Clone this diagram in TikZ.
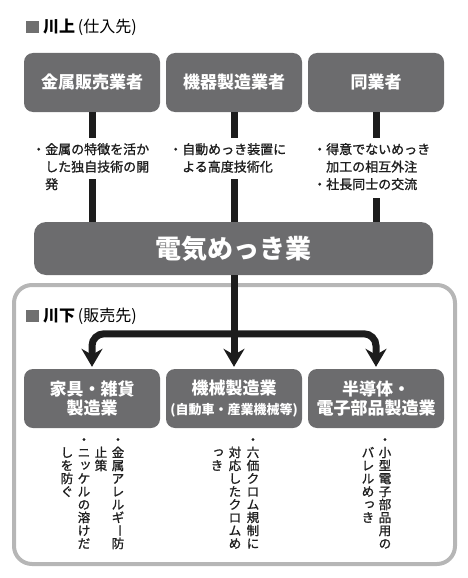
\documentclass[tikz,border=0pt]{standalone}
\usepackage{fontspec}
\usepackage{graphicx}
\usetikzlibrary{arrows.meta}
\newfontfamily\jp{Noto Sans CJK JP}
\newfontfamily\jpm{Noto Sans CJK JP}[FakeBold=1.2]
\definecolor{boxgray}{RGB}{108,108,110}
\definecolor{framegray}{RGB}{182,182,182}
\definecolor{sqgray}{RGB}{112,112,112}
\definecolor{linecol}{RGB}{28,28,28}
\definecolor{notecol}{RGB}{30,30,30}
% vertical text helpers
\newcommand\vcolumn[1]{\vbox{\baselineskip=13pt\lineskip=0pt\lineskiplimit=-20pt\vloop#1\relax}}
\def\vloop#1{\ifx#1\relax\else\hbox to 13pt{\hss\vrule height 10pt depth 3pt width 0pt\relax#1\hss}\expandafter\vloop\fi}
\newcommand\vsp{}
\newcommand\vlong{\raisebox{2pt}{\rotatebox[origin=c]{-90}{ー}}}
\newcommand\vsmall[1]{\kern3pt\raisebox{1.5pt}{#1}}
\newcommand\vTu{\vsmall{ッ}}
\newcommand\vtu{\vsmall{っ}}
\tikzset{
  ubox/.style={rounded corners=9pt, fill=boxgray, text=white, font=\jp\bfseries\fontsize{17}{19}\selectfont,
    minimum width=136pt, minimum height=59pt, inner sep=0pt, align=center},
  bigbox/.style={rounded corners=12pt, fill=boxgray, text=white, font=\jp\bfseries\fontsize{26}{30}\selectfont,
    minimum width=399pt, minimum height=53pt, inner sep=0pt},
  conn/.style={line width=7pt, draw=linecol},
  tip/.tip={Stealth[length=18pt,width=21pt,inset=6pt]},
  frame/.style={rounded corners=18pt, line width=4pt, draw=framegray},
  sq/.style={fill=sqgray, minimum width=13pt, minimum height=12pt, inner sep=0pt},
  title/.style={font=\jp\fontsize{16}{18}\selectfont, text=black, inner sep=0pt, anchor=west},
  note/.style={anchor=north west, inner sep=0pt, align=left, text=notecol, font=\jpm\fontsize{13}{17.5}\selectfont},
  vcol/.style={anchor=north, inner sep=0pt, text=notecol, font=\jpm\fontsize{12.5}{13}\selectfont}
}
\begin{document}
\begin{tikzpicture}[x=1pt, y=-1pt]
\useasboundingbox (0,0) rectangle (468,578);
% frame of downstream
\draw[frame] (14,285) rectangle (455,564);
% titles
\node[sq] (s1) at (32,27) {};
\node[title] (t1) at (43,27) {{\bfseries 川上}\,(仕入先)};
\node[sq] (s2) at (32,316) {};
\node[title] (t2) at (43,316) {{\bfseries 川下}\,(販売先)};
% upstream boxes
\node[ubox] (u1) at (92,82.5) {金属販売業者};
\node[ubox] (u2) at (234,82.5) {機器製造業者};
\node[ubox] (u3) at (376,82.5) {同業者};
% main box
\node[bigbox] (plate) at (233.5,248.5) {電気めっき業};
% downstream boxes
\node[ubox] (d1) at (92,398.5) {家具・雑貨\\製造業};
\node[ubox] (d2) at (234,398.5) {機械製造業\\[1pt]{\fontsize{13}{15}\selectfont (自動車・産業機械等)}};
\node[ubox] (d3) at (376,398.5) {半導体・\\電子部品製造業};
% connector gaps
\coordinate (g1a) at (92,138);  \coordinate (g1b) at (92,179);
\coordinate (g2a) at (234,138); \coordinate (g2b) at (234,179);
\coordinate (g3a) at (376,138); \coordinate (g3b) at (376,198);
\draw[conn] (u1.south) -- (g1a);
\draw[conn] (g1b) -- (g1b |- plate.north);
\draw[conn] (u2.south) -- (g2a);
\draw[conn] (g2b) -- (g2b |- plate.north);
\draw[conn] (u3.south) -- (g3a);
\draw[conn] (g3b) -- (g3b |- plate.north);
% notes
\node[note] (n1) at (32,143) {・金属の特徴を活か\\\hspace*{1em}した独自技術の開\\\hspace*{1em}発};
\node[note] (n2) at (169,143) {・自動めっき装置に\\\hspace*{1em}よる高度技術化};
\node[note] (n3) at (313,143) {・得意でないめっき\\\hspace*{1em}加工の相互外注\\・社長同士の交流};
% downstream connectors
\draw[conn, -{tip}, shorten >=2pt] (plate.south -| d2.north) -- (d2.north);
\draw[conn, rounded corners=12pt, {tip}-{tip}, shorten <=2pt, shorten >=2pt] (d1.north) -- ++(0,-35) -| (d3.north);
% vertical notes
\node[vcol] (v11) at (118,434) {\vcolumn{・金属アレルギ\vlong 防}};
\node[vcol] (v12) at (101,434) {\vcolumn{\vsp 止策}};
\node[vcol] (v13) at (84,434) {\vcolumn{・ニ\vTu ケルの溶けだ}};
\node[vcol] (v14) at (67,434) {\vcolumn{\vsp しを防ぐ}};
\node[vcol] (v21) at (253,434) {\vcolumn{・六価クロム規制に}};
\node[vcol] (v22) at (235,434) {\vcolumn{\vsp 対応したクロムめ}};
\node[vcol] (v23) at (217,434) {\vcolumn{\vsp \vtu き}};
\node[vcol] (v31) at (385,434) {\vcolumn{・小型電子部品用の}};
\node[vcol] (v32) at (368,434) {\vcolumn{\vsp バレルめ\vtu き}};
\end{tikzpicture}
\end{document}
